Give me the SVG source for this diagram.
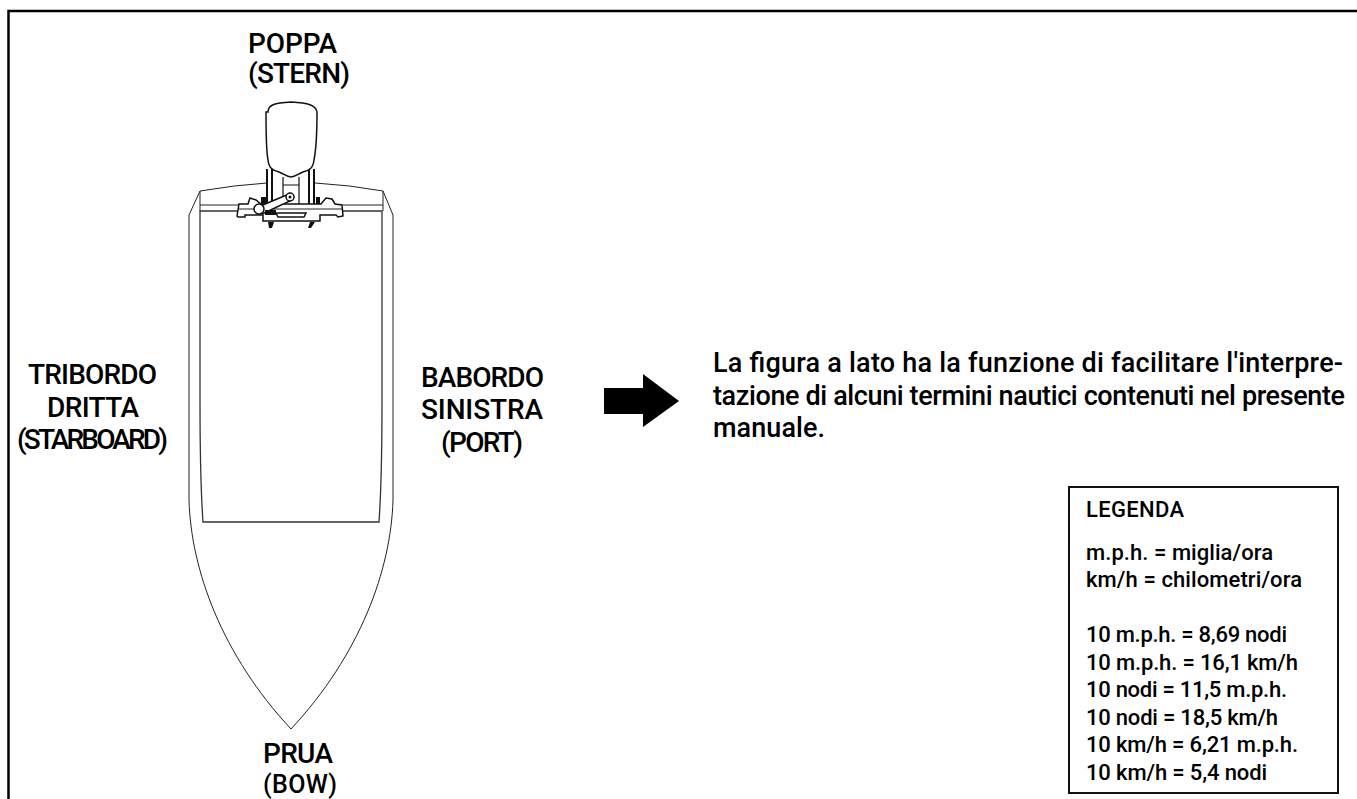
<svg xmlns="http://www.w3.org/2000/svg" width="1357" height="799" viewBox="0 0 1357 799">
<style>
text{font-family:Roboto,"Liberation Sans",sans-serif;fill:#000;font-weight:500}
.l{font-size:28px}
.b{font-size:27px}
.s{font-size:22px}
.h{fill:none;stroke:#222;stroke-width:1}
.m{fill:#fff;stroke:#111;stroke-width:1.5}
.d{fill:#111;stroke:none}
</style>
<rect width="1357" height="799" fill="#fff"/>
<path d="M8.500 799V11H1357" fill="none" stroke="#000" stroke-width="2.500"/>
<g id="boat">
<path class="h" d="M267 183Q235 185 200 191L189 215V500C191 570 222 655 291 729C360 655 391 570 393 500V215L383 191Q350 185 315 183"/>
<path class="h" d="M200 191V211M383 191V211M200 205H238M343 205H383"/>
<path d="M200 211H382V400Q382 480 379 522H203Q200 480 200 400Z" fill="none" stroke="#333" stroke-width="1.300"/>
<path d="M267 169V205M272 169V205M314 169V205M309 169V205" fill="none" stroke="#111" stroke-width="2"/>
<path d="M283 177V205M299 177V205M283 185H299" fill="none" stroke="#111" stroke-width="1.200"/>
<path id="seat" d="M268 112C268 105 274 103 291 102C308 103 316 105 317 112C317 130 316 150 314 160C313 168 310 170 303 172C298 174 295 177 291 177C287 177 284 174 279 172C272 170 269 168 268 160C266 150 266 130 266 112Z" fill="#fff" stroke="#111" stroke-width="1.500"/>
<path class="m" d="M237 216L239 204L248 204L250 198L256 200L261 204H321L326 198L332 199L335 204L342 205L343 216L338 217L336 215H320V221H263V215H245V217H238Z"/>
<path class="h" d="M239 209H342"/>
<path class="m" d="M276 213H306L304 217H278Z"/>
<path class="m" d="M258 207L289 194L292 200L262 214Z"/>
<circle class="m" cx="259" cy="209" r="5"/>
<circle class="m" cx="290" cy="197" r="4"/>
<circle class="d" cx="290" cy="197" r="1.500"/>
<path class="d" d="M261 197H266V204H261ZM316 197H320V204H316ZM265 210H276V215H265ZM268 222L274 222L272 228L269 228ZM310 222L315 222L311 228L308 228Z"/>
<path d="M604 388H643V374L679 401L643 427V414H604Z" fill="#000"/>
</g>
<g id="labels">
<text class="l" x="248" y="53" textLength="89">POPPA</text>
<text class="l" x="248" y="83" textLength="102">(STERN)</text>
<text class="l" x="28" y="384" textLength="129">TRIBORDO</text>
<text class="l" x="47" y="417" textLength="92">DRITTA</text>
<text class="l" x="17" y="449" textLength="151">(STARBOARD)</text>
<text class="l" x="421" y="387" textLength="123">BABORDO</text>
<text class="l" x="421" y="419" textLength="122">SINISTRA</text>
<text class="l" x="441" y="452" textLength="82">(PORT)</text>
<text class="l" x="263" y="763" textLength="70">PRUA</text>
<text x="263" y="793" font-size="25" textLength="74">(BOW)</text>
</g>
<g id="note">
<text class="b" x="713" y="372" textLength="630">La figura a lato ha la funzione di facilitare l'interpre-</text>
<text class="b" x="713" y="405" textLength="632">tazione di alcuni termini nautici contenuti nel presente</text>
<text class="b" x="713" y="437" textLength="112">manuale.</text>
</g>
<g id="legend">
<rect x="1069" y="487" width="269" height="306" fill="#fff" stroke="#111" stroke-width="2"/>
<text class="s" x="1086" y="517" textLength="98">LEGENDA</text>
<text class="s" x="1086" y="560" textLength="187">m.p.h. = miglia/ora</text>
<text class="s" x="1086" y="587" textLength="216">km/h = chilometri/ora</text>
<text class="s" x="1086" y="642" textLength="201">10 m.p.h. = 8,69 nodi</text>
<text class="s" x="1086" y="670" textLength="212">10 m.p.h. = 16,1 km/h</text>
<text class="s" x="1086" y="697" textLength="201">10 nodi = 11,5 m.p.h.</text>
<text class="s" x="1086" y="725" textLength="192">10 nodi = 18,5 km/h</text>
<text class="s" x="1086" y="752" textLength="212">10 km/h = 6,21 m.p.h.</text>
<text class="s" x="1086" y="780" textLength="181">10 km/h = 5,4 nodi</text>
</g>
</svg>
